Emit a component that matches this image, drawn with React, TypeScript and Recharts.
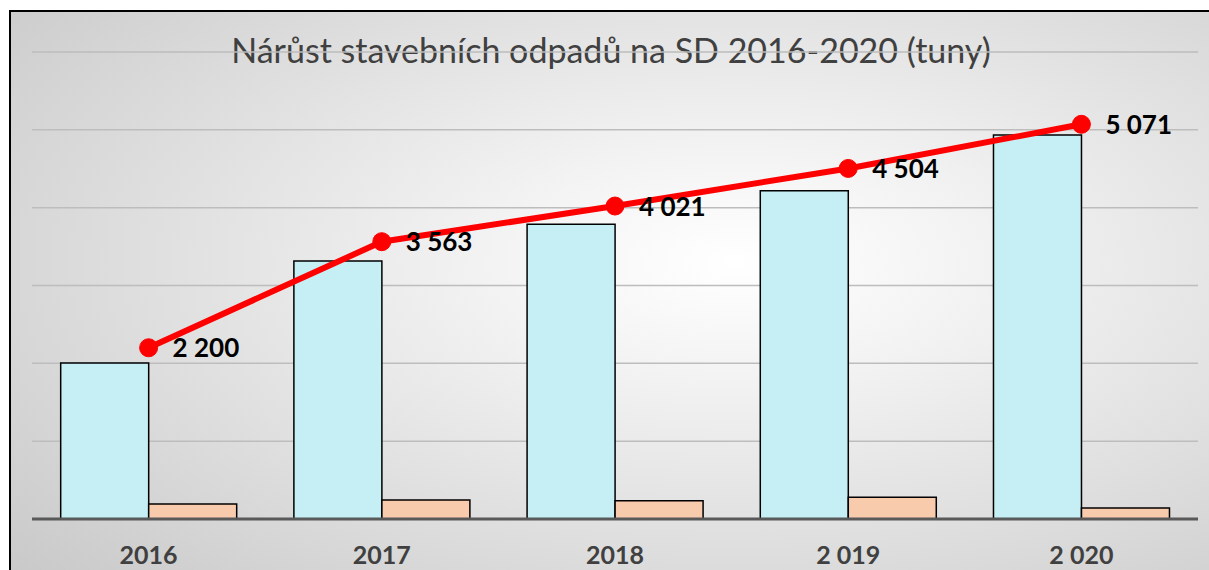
import { Bar, ComposedChart, Line, XAxis, YAxis, CartesianGrid, LabelList } from 'recharts';

const years = ['2016', '2017', '2018', '2 019', '2 020'];
const totalWaste = [2004, 3315, 3786, 4218, 4934];
const otherWaste = [193, 244, 235, 279, 141];
const growthLine = [2200, 3563, 4021, 4504, 5071];
const yTicks = [0, 1000, 2000, 3000, 4000, 5000, 6000];

const data = years.map((year, i) => ({
  year,
  total: totalWaste[i],
  other: otherWaste[i],
  growth: growthLine[i],
}));

const fmt = (v: number) => String(v).replace(/\B(?=(\d{3})+(?!\d))/g, ' ');

function PointLabel(props: any) {
  const { x, y, value } = props;
  return (
    <text x={x + 24} y={y + 3} dominantBaseline="middle" fontFamily="Lato, sans-serif" fontWeight="bold" fontSize={26} fill="#000">
      {fmt(value)}
    </text>
  );
}

export default function App() {
  return (
    <div style={{ position: 'absolute', left: 0, top: 0, width: 1209, height: 570, overflow: 'hidden', background: '#fff' }}>
      <div
        style={{
          position: 'absolute',
          left: 9,
          top: 10,
          width: 1210,
          height: 600,
          border: '2px solid #000',
          boxSizing: 'border-box',
          background: 'radial-gradient(ellipse farthest-corner at 60% 42%, #ffffff 0%, #f2f2f2 25%, #c6c6c6 100%)',
        }}
      />
      <div
        style={{
          position: 'absolute',
          left: 0,
          width: 1222,
          top: 29,
          textAlign: 'center',
          fontFamily: 'Lato, sans-serif',
          fontSize: 34,
          color: '#404040',
          whiteSpace: 'nowrap',
        }}
      >
        Nárůst stavebních odpadů na SD 2016-2020 (tuny)
      </div>
      <div style={{ position: 'absolute', left: 0, top: 0 }}>
        <ComposedChart
          width={1209}
          height={570}
          data={data}
          margin={{ top: 52, right: 11, bottom: 11, left: 32 }}
          barCategoryGap="12.3%"
          barGap={0}
        >
          <CartesianGrid horizontal vertical={false} stroke="#bdbdbd" strokeWidth={1.5} />
          <XAxis
            dataKey="year"
            height={40}
            axisLine={{ stroke: '#595959', strokeWidth: 3 }}
            tickLine={false}
            tick={{ fill: '#404040', fontSize: 25, fontWeight: 'bold', fontFamily: 'Lato, sans-serif' }}
            tickMargin={21}
          />
          <YAxis hide domain={[0, 6000]} ticks={yTicks} />
          <Bar dataKey="total" fill="#c5eef5" stroke="#000" strokeWidth={1.5} isAnimationActive={false} />
          <Bar dataKey="other" fill="#f8cbad" stroke="#000" strokeWidth={1.5} isAnimationActive={false} />
          <Line
            dataKey="growth"
            stroke="#ff0000"
            strokeWidth={6}
            dot={{ r: 9, fill: '#ff0000', stroke: '#ff0000', strokeWidth: 1 }}
            isAnimationActive={false}
          >
            <LabelList dataKey="growth" content={PointLabel} />
          </Line>
        </ComposedChart>
      </div>
    </div>
  );
}
